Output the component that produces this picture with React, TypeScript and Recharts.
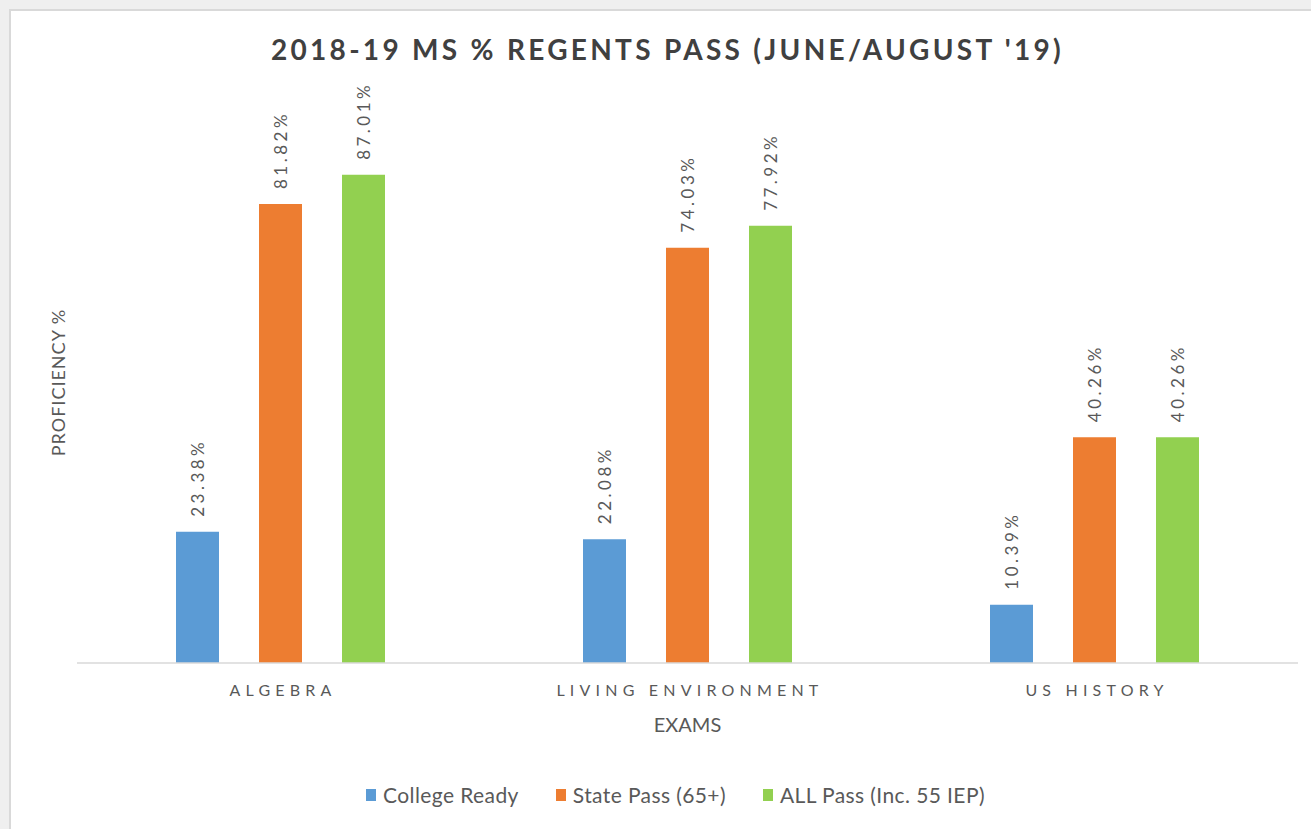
import React from 'react';
import { BarChart, Bar, XAxis, YAxis, Legend, LabelList } from 'recharts';

const categories = ['ALGEBRA', 'LIVING ENVIRONMENT', 'US HISTORY'];
const collegeReady = [23.38, 22.08, 10.39];
const statePass = [81.82, 74.03, 40.26];
const allPass = [87.01, 77.92, 40.26];
const seriesNames = ['College Ready', 'State Pass (65+)', 'ALL Pass (Inc. 55 IEP)'];
const seriesColors = ['#5B9BD5', '#ED7D31', '#92D050'];
const seriesKeys = ['college', 'state', 'all'];

const data = categories.map((c, i) => ({
  name: c,
  college: collegeReady[i],
  state: statePass[i],
  all: allPass[i],
}));

const FONT = 'Lato, "Open Sans", sans-serif';
const GRAY = '#595959';

const ValueLabel = (props: any) => {
  const { x, y, width, value } = props;
  const cx = Number(x) + Number(width) / 2;
  const ty = Number(y) - 15;
  return (
    <text
      transform={`translate(${cx},${ty}) rotate(-90)`}
      textAnchor="start"
      dominantBaseline="central"
      fill={GRAY}
      fontSize={17}
      letterSpacing={3.5}
      fontFamily={FONT}
    >
      {`${Number(value).toFixed(2)}%`}
    </text>
  );
};

const CatTick = (props: any) => {
  const { x, y, payload } = props;
  return (
    <text
      x={x + 2.5}
      y={y + 25}
      textAnchor="middle"
      fill={GRAY}
      fontSize={16}
      letterSpacing={5.2}
      fontFamily={FONT}
    >
      {payload.value}
    </text>
  );
};

const LegendContent = () => (
  <div
    style={{
      display: 'flex',
      justifyContent: 'center',
      fontFamily: FONT,
      fontSize: 21,
      letterSpacing: 0.4,
      color: GRAY,
      lineHeight: '26px',
    }}
  >
    {seriesNames.map((n, i) => (
      <div key={n} style={{ display: 'flex', alignItems: 'center', marginLeft: i === 0 ? 0 : 37 }}>
        <span
          style={{ display: 'inline-block', width: 10, height: 12, background: seriesColors[i], marginRight: 7 }}
        />
        <span>{n}</span>
      </div>
    ))}
  </div>
);

export default function App() {
  return (
    <div style={{ position: 'absolute', left: 0, top: 0, width: 1311, height: 829, background: '#efefef' }}>
      <div
        style={{
          position: 'absolute',
          left: 9,
          top: 9,
          width: 1302,
          height: 820,
          background: '#ffffff',
          borderLeft: '2px solid #d9d9d9',
          borderTop: '2px solid #d9d9d9',
          boxSizing: 'border-box',
        }}
      />
      <div
        style={{
          position: 'absolute',
          left: 0,
          top: 31,
          width: 1335,
          textAlign: 'center',
          fontFamily: FONT,
          fontWeight: 700,
          fontSize: 28,
          letterSpacing: 3.3,
          color: '#404040',
          lineHeight: '36px',
        }}
      >
        2018-19 MS % REGENTS PASS (JUNE/AUGUST '19)
      </div>
      <div style={{ position: 'absolute', left: 0, top: 0 }}>
        <BarChart
          width={1311}
          height={829}
          data={data}
          margin={{ top: 102, right: 13, bottom: 106, left: 37 }}
          barGap={40}
          barSize={43}
        >
          <XAxis
            dataKey="name"
            height={60}
            axisLine={{ stroke: '#d9d9d9', strokeWidth: 1.5 }}
            tickLine={false}
            tick={<CatTick />}
            interval={0}
            label={{
              content: (p: any) => {
                const vb = p.viewBox;
                return (
                  <text
                    x={vb.x + vb.width / 2}
                    y={vb.y + 69}
                    textAnchor="middle"
                    fill={GRAY}
                    fontSize={20}
                    fontFamily={FONT}
                  >
                    EXAMS
                  </text>
                );
              },
            }}
          />
          <YAxis
            width={40}
            domain={[0, 100]}
            tick={false}
            axisLine={false}
            tickLine={false}
            label={{
              content: (p: any) => {
                const vb = p.viewBox;
                const cx = vb.x + vb.width / 2 + 1;
                const cy = vb.y + vb.height / 2;
                return (
                  <text
                    transform={`translate(${cx},${cy}) rotate(-90)`}
                    textAnchor="middle"
                    dominantBaseline="central"
                    fill={GRAY}
                    fontSize={18}
                    letterSpacing={1}
                    fontFamily={FONT}
                  >
                    PROFICIENCY %
                  </text>
                );
              },
            }}
          />
          <Legend
            layout="horizontal"
            verticalAlign="middle"
            align="center"
            content={<LegendContent />}
            wrapperStyle={{ top: 782, left: 20, width: 1311 }}
          />
          {seriesKeys.map((k, i) => (
            <Bar key={k} dataKey={k} name={seriesNames[i]} fill={seriesColors[i]} isAnimationActive={false}>
              <LabelList dataKey={k} content={<ValueLabel />} />
            </Bar>
          ))}
        </BarChart>
      </div>
    </div>
  );
}
